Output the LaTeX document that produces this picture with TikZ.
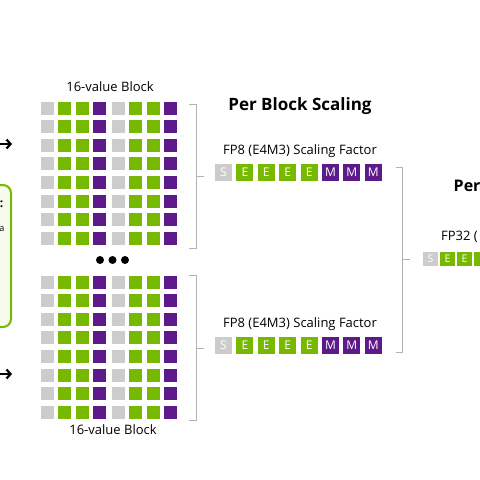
\documentclass[tikz,border=0pt]{standalone}
\usepackage{fontspec}
\setmainfont{Open Sans}
\usetikzlibrary{arrows.meta}
\definecolor{nvgreen}{RGB}{118,185,0}
\definecolor{nvpurple}{RGB}{92,26,138}
\definecolor{nvgray}{RGB}{204,204,204}
\definecolor{boxfill}{RGB}{246,251,238}

\begin{document}
\begin{tikzpicture}[x=1pt, y=-1pt, >={Straight Barb[length=4pt,width=9pt]}]
\tikzset{cell/.style={fill=#1,inner sep=0,minimum size=13pt},
  bit/.style={fill=#1,inner sep=0,minimum size=17pt,text=white,font=\fontsize{12}{12}\selectfont},
  smallbit/.style={bit=#1,minimum size=14.5pt,font=\fontsize{10.5}{10.5}\selectfont},
  brace/.style={draw=black!30,line width=1pt},
  lbl/.style={font=\fontsize{13}{15}\selectfont},
  dot/.style={circle,fill=black,inner sep=0,minimum size=8pt}}

\useasboundingbox (0,0) rectangle (480,480);
\begin{scope}
\clip (0,0) rectangle (480,480);

% input box on the left, cut by the frame
\draw[nvgreen, line width=2pt, fill=boxfill, rounded corners=8pt] (-100,185) rectangle (11,327);
\node[anchor=east, inner sep=0, font=\bfseries\fontsize{12}{12}\selectfont] (colon) at (3.5,204) {:};
\node[anchor=east, inner sep=0, font=\fontsize{9}{9}\selectfont] (atail) at (4.5,229) {a};

% arrows into the blocks
\coordinate (in1) at (-10,144);
\coordinate (out1) at (12,144);
\coordinate (in2) at (-10,374);
\coordinate (out2) at (12,374);
\draw[->, line width=2.2pt] (in1) -- (out1);
\draw[->, line width=2.2pt] (in2) -- (out2);

% two 16-value blocks
\foreach \r in {0,...,7}{
  \foreach \c/\col in {0/nvgray,1/nvgreen,2/nvgreen,3/nvpurple,4/nvgray,5/nvgreen,6/nvgreen,7/nvpurple}{
    \pgfmathsetmacro{\xx}{\c<4 ? 47.5+17.4*\c : 118.5+17.4*(\c-4)}
    \node[cell=\col] (t-\r-\c) at (\xx,108+18.6*\r) {};
    \node[cell=\col] (b-\r-\c) at (\xx,282+18.6*\r) {};
  }
}
\node[lbl] (toplbl) at (110,87) {16-value Block};
\node[lbl] (botlbl) at (113,430) {16-value Block};

\node[dot] (d1) at (100,260) {};
\node[dot] (d2) at (112.5,260) {};
\node[dot] (d3) at (125,260) {};

% braces
\draw[brace] (189,104) -- (196,104) -- (196,248) -- (189,248);
\draw[brace] (196,176) -- (204,176);
\draw[brace] (189,275) -- (196,275) -- (196,420) -- (189,420);
\draw[brace] (196,348) -- (204,348);
\draw[brace] (396,167) -- (402,167) -- (402,352) -- (396,352);
\draw[brace] (402,259) -- (410,259);

% per block scaling factors
\node[font=\bfseries\fontsize{17}{20}\selectfont] (pbs) at (300,106) {Per Block Scaling};
\node[lbl] (fp8a) at (300,151) {FP8 (E4M3) Scaling Factor};
\node[lbl] (fp8b) at (300,324) {FP8 (E4M3) Scaling Factor};
\foreach \i/\col/\ch in {0/nvgray/S,1/nvgreen/E,2/nvgreen/E,3/nvgreen/E,4/nvgreen/E,5/nvpurple/M,6/nvpurple/M,7/nvpurple/M}{
  \node[bit=\col] (fa-\i) at (223.5+21.4*\i,172.5) {\ch};
  \node[bit=\col] (fb-\i) at (223.5+21.4*\i,345) {\ch};
}

% per tensor scaling, cut by the frame
\node[anchor=west, inner sep=0, font=\bfseries\fontsize{16}{19}\selectfont] (pts) at (453.5,186) {Per};
\node[lbl, anchor=west, inner sep=0] (fp32) at (441,237) {FP32 (};
\foreach \i/\col/\ch in {0/nvgray/S,1/nvgreen/E,2/nvgreen/E}{
  \node[smallbit=\col] (g-\i) at (430.5+17*\i,259) {\ch};
}
\node[smallbit=nvgreen] (g-3) at (481.5,259) {};
\end{scope}
\end{tikzpicture}
\end{document}
